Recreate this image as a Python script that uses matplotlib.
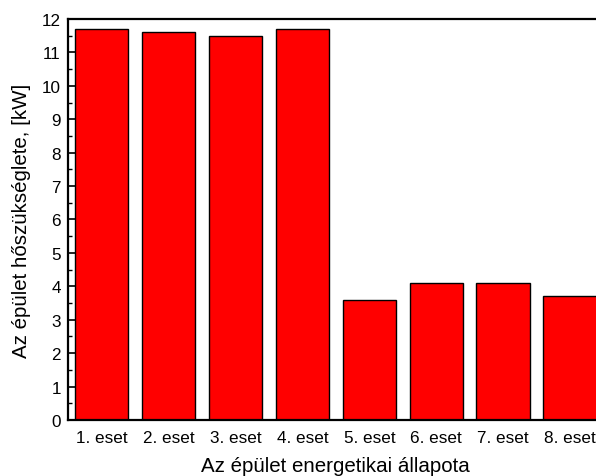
import numpy as np
import matplotlib.pyplot as plt
from matplotlib.ticker import MultipleLocator

plt.rcParams['font.family'] = ['Liberation Sans', 'DejaVu Sans']

esetek = ['1. eset', '2. eset', '3. eset', '4. eset',
          '5. eset', '6. eset', '7. eset', '8. eset']
hoszukseglet = [11.7, 11.6, 11.5, 11.7, 3.6, 4.1, 4.1, 3.7]

fig = plt.figure(figsize=(5.96, 4.77), dpi=100)
ax = fig.add_axes([0.114, 0.1174, 0.899, 0.8407])

x = np.arange(1, len(esetek) + 1)
ax.bar(x, hoszukseglet, width=0.8, color='#ff0000', edgecolor='black', linewidth=1.0)

ax.set_xlim(0.5, 8.5)
ax.set_ylim(0, 12)
ax.set_xticks(x)
ax.set_xticklabels(esetek)
ax.yaxis.set_major_locator(MultipleLocator(1))
ax.yaxis.set_minor_locator(MultipleLocator(0.5))
ax.tick_params(axis='y', which='major', direction='in', length=6, width=1.2, labelsize=12.3, pad=5)
ax.tick_params(axis='y', which='minor', direction='in', length=3, width=1.0)
ax.tick_params(axis='x', length=0, labelsize=12.3, pad=7)
for s in ax.spines.values():
    s.set_linewidth(1.6)

ax.set_ylabel('Az épület hőszükséglete, [kW]', fontsize=14.8, labelpad=8)
ax.set_xlabel('Az épület energetikai állapota', fontsize=14.8, labelpad=8)

plt.savefig('out.png', dpi=100)
